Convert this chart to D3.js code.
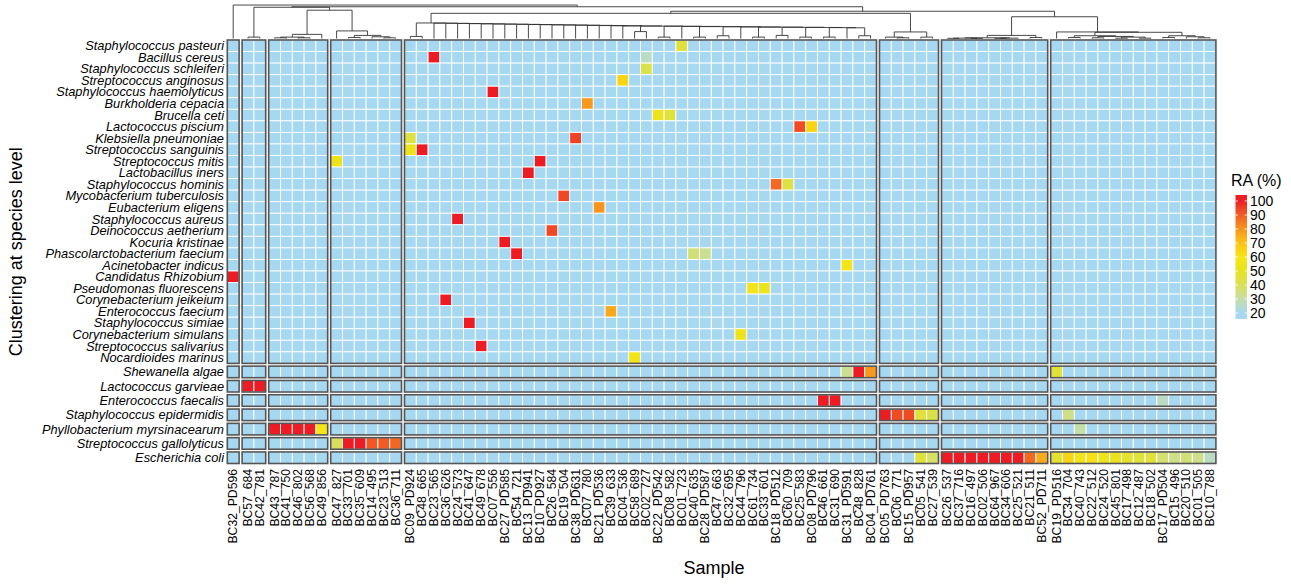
<!DOCTYPE html>
<html>
<head>
<meta charset="utf-8">
<script src="https://cdn.jsdelivr.net/npm/d3@7"></script>
<style>
  body { margin: 0; background: #fff; }
  svg { display: block; font-family: "Liberation Sans", Arial, Helvetica, sans-serif; }
</style>
</head>
<body>
<svg id="chart" width="1291" height="585"></svg>
<script>
// Proben (Spalten), in der Reihenfolge des Bildes
const samples = [
  "BC32_PD596",
  "BC57_684", "BC42_781",
  "BC43_787", "BC41_750", "BC46_802", "BC56_568", "BC49_856",
  "BC47_827", "BC33_701", "BC35_609", "BC14_495", "BC23_513", "BC36_711",
  "BC09_PD924", "BC48_665", "BC23_565", "BC36_626", "BC24_573", "BC41_647", "BC49_678", "BC07_556",
  "BC27_PD585", "BC54_721", "BC13_PD941", "BC10_PD927", "BC26_584", "BC19_504", "BC38_PD631", "BC07_780",
  "BC21_PD536", "BC39_633", "BC04_536", "BC58_689", "BC02_727", "BC22_PD542", "BC08_582", "BC01_723",
  "BC40_635", "BC28_PD587", "BC47_663", "BC32_695", "BC44_796", "BC61_734", "BC33_601", "BC18_PD512",
  "BC60_709", "BC25_583", "BC08_PD796", "BC46_661", "BC31_690", "BC31_PD591", "BC48_828", "BC04_PD761",
  "BC05_PD763", "BC06_771", "BC15_PD957", "BC05_541", "BC27_539",
  "BC26_537", "BC37_716", "BC16_497", "BC02_506", "BC64_967", "BC34_606", "BC25_521", "BC21_511", "BC52_PD711",
  "BC19_PD516", "BC34_704", "BC40_743", "BC22_512", "BC24_520", "BC45_801", "BC17_498", "BC12_487",
  "BC18_502", "BC17_PD504", "BC15_496", "BC20_510", "BC01_505", "BC10_788"
];
const colGroupSizes = [1, 2, 5, 6, 40, 5, 9, 14];

// Arten (Zeilen)
const species = [
  "Staphylococcus pasteuri", "Bacillus cereus", "Staphylococcus schleiferi", "Streptococcus anginosus",
  "Staphylococcus haemolyticus", "Burkholderia cepacia", "Brucella ceti", "Lactococcus piscium",
  "Klebsiella pneumoniae", "Streptococcus sanguinis", "Streptococcus mitis", "Lactobacillus iners",
  "Staphylococcus hominis", "Mycobacterium tuberculosis", "Eubacterium eligens", "Staphylococcus aureus",
  "Deinococcus aetherium", "Kocuria kristinae", "Phascolarctobacterium faecium", "Acinetobacter indicus",
  "Candidatus Rhizobium", "Pseudomonas fluorescens", "Corynebacterium jeikeium", "Enterococcus faecium",
  "Staphylococcus simiae", "Corynebacterium simulans", "Streptococcus salivarius", "Nocardioides marinus",
  "Shewanella algae", "Lactococcus garvieae", "Enterococcus faecalis", "Staphylococcus epidermidis",
  "Phyllobacterium myrsinacearum", "Streptococcus gallolyticus", "Escherichia coli"
];
const rowGroupSizes = [28, 1, 1, 1, 1, 1, 1, 1];

// Relative Abundanz (%) – alle übrigen Zellen liegen bei 20 (Minimum)
const detections = [
  ["Staphylococcus pasteuri", "BC01_723", 45],
  ["Bacillus cereus", "BC23_565", 100], ["Bacillus cereus", "BC02_727", 26],
  ["Staphylococcus schleiferi", "BC02_727", 42],
  ["Streptococcus anginosus", "BC04_536", 65],
  ["Staphylococcus haemolyticus", "BC07_556", 100],
  ["Burkholderia cepacia", "BC07_780", 79],
  ["Brucella ceti", "BC22_PD542", 52], ["Brucella ceti", "BC08_582", 45],
  ["Lactococcus piscium", "BC25_583", 93], ["Lactococcus piscium", "BC08_PD796", 65],
  ["Klebsiella pneumoniae", "BC09_PD924", 44], ["Klebsiella pneumoniae", "BC38_PD631", 95],
  ["Streptococcus sanguinis", "BC09_PD924", 53], ["Streptococcus sanguinis", "BC48_665", 100],
  ["Streptococcus mitis", "BC47_827", 54], ["Streptococcus mitis", "BC10_PD927", 100],
  ["Lactobacillus iners", "BC13_PD941", 100],
  ["Staphylococcus hominis", "BC18_PD512", 88], ["Staphylococcus hominis", "BC60_709", 43],
  ["Mycobacterium tuberculosis", "BC19_504", 94],
  ["Eubacterium eligens", "BC21_PD536", 80],
  ["Staphylococcus aureus", "BC24_573", 100],
  ["Deinococcus aetherium", "BC26_584", 94],
  ["Kocuria kristinae", "BC27_PD585", 100],
  ["Phascolarctobacterium faecium", "BC54_721", 100],
  ["Phascolarctobacterium faecium", "BC40_635", 36], ["Phascolarctobacterium faecium", "BC28_PD587", 33],
  ["Acinetobacter indicus", "BC31_PD591", 56],
  ["Candidatus Rhizobium", "BC32_PD596", 100],
  ["Pseudomonas fluorescens", "BC61_734", 56], ["Pseudomonas fluorescens", "BC33_601", 52],
  ["Corynebacterium jeikeium", "BC36_626", 100],
  ["Enterococcus faecium", "BC39_633", 76],
  ["Staphylococcus simiae", "BC41_647", 100], ["Staphylococcus simiae", "BC47_663", 21],
  ["Corynebacterium simulans", "BC44_796", 54],
  ["Streptococcus salivarius", "BC49_678", 100],
  ["Nocardioides marinus", "BC58_689", 57],
  ["Shewanella algae", "BC31_PD591", 33], ["Shewanella algae", "BC48_828", 100],
  ["Shewanella algae", "BC04_PD761", 79], ["Shewanella algae", "BC19_PD516", 46],
  ["Lactococcus garvieae", "BC57_684", 100], ["Lactococcus garvieae", "BC42_781", 100],
  ["Enterococcus faecalis", "BC46_661", 100], ["Enterococcus faecalis", "BC31_690", 100],
  ["Enterococcus faecalis", "BC17_PD504", 26],
  ["Staphylococcus epidermidis", "BC05_PD763", 100], ["Staphylococcus epidermidis", "BC06_771", 93],
  ["Staphylococcus epidermidis", "BC15_PD957", 93], ["Staphylococcus epidermidis", "BC05_541", 45],
  ["Staphylococcus epidermidis", "BC27_539", 42], ["Staphylococcus epidermidis", "BC34_704", 34],
  ["Phyllobacterium myrsinacearum", "BC43_787", 100], ["Phyllobacterium myrsinacearum", "BC41_750", 100],
  ["Phyllobacterium myrsinacearum", "BC46_802", 100], ["Phyllobacterium myrsinacearum", "BC56_568", 100],
  ["Phyllobacterium myrsinacearum", "BC49_856", 58], ["Phyllobacterium myrsinacearum", "BC40_743", 30],
  ["Streptococcus gallolyticus", "BC47_827", 39], ["Streptococcus gallolyticus", "BC33_701", 100],
  ["Streptococcus gallolyticus", "BC35_609", 100], ["Streptococcus gallolyticus", "BC14_495", 91],
  ["Streptococcus gallolyticus", "BC23_513", 90], ["Streptococcus gallolyticus", "BC36_711", 88],
  ["Escherichia coli", "BC05_541", 45], ["Escherichia coli", "BC27_539", 38],
  ["Escherichia coli", "BC26_537", 100], ["Escherichia coli", "BC37_716", 100],
  ["Escherichia coli", "BC16_497", 100], ["Escherichia coli", "BC02_506", 100],
  ["Escherichia coli", "BC64_967", 100], ["Escherichia coli", "BC34_606", 100],
  ["Escherichia coli", "BC25_521", 100], ["Escherichia coli", "BC21_511", 88],
  ["Escherichia coli", "BC52_PD711", 75], ["Escherichia coli", "BC19_PD516", 47],
  ["Escherichia coli", "BC34_704", 65], ["Escherichia coli", "BC40_743", 57],
  ["Escherichia coli", "BC22_512", 62], ["Escherichia coli", "BC24_520", 55],
  ["Escherichia coli", "BC45_801", 51], ["Escherichia coli", "BC17_498", 48],
  ["Escherichia coli", "BC12_487", 46], ["Escherichia coli", "BC18_502", 45],
  ["Escherichia coli", "BC17_PD504", 37], ["Escherichia coli", "BC15_496", 34],
  ["Escherichia coli", "BC20_510", 36], ["Escherichia coli", "BC01_505", 34],
  ["Escherichia coli", "BC10_788", 26]
];

// Legende
const legendTicks = [100, 90, 80, 70, 60, 50, 40, 30, 20];

// Dendrogramm (Knoten = [Höhe, links, rechts], Blätter = Spaltenindex)
const treeG2 = [0.04, 1, 2];
const treeG3 = [0.12, [0.04, [0.02, 3, 4], [0.02, 5, 6]], 7];
const treeG4 = [0.22, 8, [0.09, [0.03, 9, 10], [0.05, 11, [0.02, 12, 13]]]];
const g5RightItems = [[0.2, 33, 34], [0.04, 35, 36], 37, [0.04, 38, 39], [0.08, 40, 41], 42,
  [0.04, 43, 44], [0.09, 45, 46], [0.04, 47, 48], [0.04, 49, 50], 51, [0.08, 52, 53]];
const g5RightHeights = [0.36, 0.355, 0.35, 0.345, 0.34, 0.335, 0.33, 0.325, 0.32, 0.315, 0.31];
const g5LeftItems = [[0.06, 14, 15], 16, 17, 18, 19, 20, 21, 22, 23, 24, 25, 26, 27, 28, 29, 30, 31, 32];
const g5LeftHeights = [0.45, 0.445, 0.44, 0.435, 0.43, 0.425, 0.42, 0.415, 0.41, 0.405,
  0.4, 0.395, 0.39, 0.385, 0.38, 0.375, 0.37, 0.365];
const treeG6 = [0.19, [0.04, 54, [0.02, 55, 56]], [0.04, 57, 58]];
const treeG7 = [0.09, [0.02, [0.01, [0.005, 59, 60], [0.005, 61, 62]], [0.01, [0.005, 63, 64], 65]], [0.03, 66, 67]];
const treeG8 = [0.19, 68, [0.18, [0.08, [0.03, 69, 70], [0.06, [0.02, 71, 72], [0.04, [0.01, 73, 74], [0.01, 75, 76]]]],
  [0.08, [0.03, 77, 78], [0.05, 79, [0.02, 80, 81]]]]];
const topHeights = { root: 0.97, n1: 0.92, n2: 0.905, n4: 0.82, n3: 0.79, n5: 0.73, n6: 0.63 };

// ---------------------------------------------------------------
const svg = d3.select("#chart");

// Layout
const panelLeft = 227.3, cellW = 11.8, gapX = 3;
const panelTop = 40, cellH = 11.55, gapY = 2.75;

// Gruppenindex jeder Spalte / Zeile
const colGroup = colGroupSizes.flatMap((n, g) => d3.range(n).map(() => g));
const rowGroup = rowGroupSizes.flatMap((n, g) => d3.range(n).map(() => g));

const xIdx = d3.scaleLinear().domain([0, samples.length]).range([panelLeft, panelLeft + samples.length * cellW]);
const yIdx = d3.scaleLinear().domain([0, species.length]).range([panelTop, panelTop + species.length * cellH]);
const colX = i => xIdx(i) + colGroup[i] * gapX;
const rowY = r => yIdx(r) + rowGroup[r] * gapY;

// Farbskala (Lab-Interpolation wie colorRamp2)
const color = d3.scaleLinear()
  .domain([20, 30, 40, 50, 60, 70, 80, 90, 100])
  .range(["#a7d8f1", "#c3dea8", "#d8e052", "#e7e320", "#f7e415", "#fbc416", "#f7941e", "#f15a24", "#ed1c24"])
  .interpolate(d3.interpolateLab)
  .clamp(true);

// Werte-Matrix
const valueMap = new Map(detections.map(d => [d[0] + "|" + d[1], d[2]]));
const cells = [];
species.forEach((sp, r) => {
  samples.forEach((sa, c) => {
    cells.push({ r, c, v: valueMap.get(sp + "|" + sa) ?? 20 });
  });
});

// Zellen
svg.append("g")
  .selectAll("rect")
  .data(cells)
  .join("rect")
  .attr("x", d => colX(d.c))
  .attr("y", d => rowY(d.r))
  .attr("width", cellW)
  .attr("height", cellH)
  .attr("fill", d => color(d.v))
  .attr("stroke", "#fff")
  .attr("stroke-width", 0.9);

// Rahmen je Block
const colStarts = d3.cumsum([0, ...colGroupSizes]).slice(0, -1);
const rowStarts = d3.cumsum([0, ...rowGroupSizes]).slice(0, -1);
const blocks = [];
rowStarts.forEach((rs, ri) => colStarts.forEach((cs, ci) => {
  blocks.push({ rs, re: rs + rowGroupSizes[ri], cs, ce: cs + colGroupSizes[ci] });
}));
svg.append("g")
  .selectAll("rect")
  .data(blocks)
  .join("rect")
  .attr("x", d => colX(d.cs))
  .attr("y", d => rowY(d.rs))
  .attr("width", d => colX(d.ce - 1) + cellW - colX(d.cs))
  .attr("height", d => rowY(d.re - 1) + cellH - rowY(d.rs))
  .attr("fill", "none")
  .attr("stroke", "#555")
  .attr("stroke-width", 1.6);

// Zeilenbeschriftung
svg.append("g")
  .selectAll("text")
  .data(species)
  .join("text")
  .attr("x", 224)
  .attr("y", (d, r) => rowY(r) + cellH / 2)
  .attr("text-anchor", "end")
  .attr("dominant-baseline", "central")
  .attr("font-size", "12.8px")
  .attr("font-style", "italic")
  .attr("fill", "#000")
  .text(d => d);

// Spaltenbeschriftung
const labelTop = 469;
svg.append("g")
  .selectAll("text")
  .data(samples)
  .join("text")
  .attr("x", (d, i) => colX(i) + cellW / 2)
  .attr("y", labelTop)
  .attr("transform", (d, i) => `rotate(-90,${colX(i) + cellW / 2},${labelTop})`)
  .attr("text-anchor", "end")
  .attr("dominant-baseline", "central")
  .attr("font-size", "12.2px")
  .attr("fill", "#000")
  .text(d => d);

// Achsentitel
const midY = (rowY(0) + rowY(species.length - 1) + cellH) / 2;
svg.append("text")
  .attr("x", 16)
  .attr("y", midY)
  .attr("transform", `rotate(-90,16,${midY})`)
  .attr("text-anchor", "middle")
  .attr("dominant-baseline", "central")
  .attr("font-size", "18px")
  .text("Clustering at species level");

svg.append("text")
  .attr("x", 714)
  .attr("y", 574)
  .attr("text-anchor", "middle")
  .attr("font-size", "18px")
  .text("Sample");

// Dendrogramm
const hScale = d3.scaleLinear().domain([0, 1]).range([38.5, 4]);
const dendro = svg.append("g")
  .attr("fill", "none")
  .attr("stroke", "#333")
  .attr("stroke-width", 0.9);

function cascade(items, heights) {
  let node = items[items.length - 1];
  for (let k = items.length - 2; k >= 0; k--) node = [heights[k], items[k], node];
  return node;
}
const treeG5 = cascade([...g5LeftItems, cascade(g5RightItems, g5RightHeights)], g5LeftHeights);
const tree = [topHeights.root, 0,
  [topHeights.n1,
    [topHeights.n2, treeG2, [topHeights.n4, treeG3, treeG4]],
    [topHeights.n3, [topHeights.n5, treeG5, treeG6], [topHeights.n6, treeG7, treeG8]]]];

function drawNode(node) {
  if (typeof node === "number") return { x: colX(node) + cellW / 2, h: 0 };
  const a = drawNode(node[1]);
  const b = drawNode(node[2]);
  const y = hScale(node[0]);
  dendro.append("path")
    .attr("d", `M${a.x},${hScale(a.h)}V${y}H${b.x}V${hScale(b.h)}`);
  return { x: (a.x + b.x) / 2, h: node[0] };
}
drawNode(tree);

// Legende
const legX = 1235.5, legW = 11.5, legTop = 195, legBottom = 319;
const legScale = d3.scaleLinear().domain([100, 20]).range([201, 313]);

svg.append("text")
  .attr("x", 1231)
  .attr("y", 186)
  .attr("font-size", "16px")
  .text("RA (%)");

const grad = svg.append("defs").append("linearGradient")
  .attr("id", "raGrad")
  .attr("x1", 0).attr("y1", 0).attr("x2", 0).attr("y2", 1);
d3.range(0, 1.0001, 0.05).forEach(t => {
  const yy = legTop + t * (legBottom - legTop);
  grad.append("stop")
    .attr("offset", t)
    .attr("stop-color", color(legScale.invert(yy)));
});

svg.append("rect")
  .attr("x", legX)
  .attr("y", legTop)
  .attr("width", legW)
  .attr("height", legBottom - legTop)
  .attr("fill", "url(#raGrad)");

const legTickG = svg.append("g");
legendTicks.forEach(t => {
  const yy = legScale(t);
  legTickG.append("line")
    .attr("x1", legX).attr("x2", legX + 2.5)
    .attr("y1", yy).attr("y2", yy)
    .attr("stroke", "#fff").attr("stroke-width", 0.8);
  legTickG.append("line")
    .attr("x1", legX + legW - 2.5).attr("x2", legX + legW)
    .attr("y1", yy).attr("y2", yy)
    .attr("stroke", "#fff").attr("stroke-width", 0.8);
  legTickG.append("text")
    .attr("x", legX + legW + 3)
    .attr("y", yy)
    .attr("dominant-baseline", "central")
    .attr("font-size", "14px")
    .text(t);
});
</script>
</body>
</html>
